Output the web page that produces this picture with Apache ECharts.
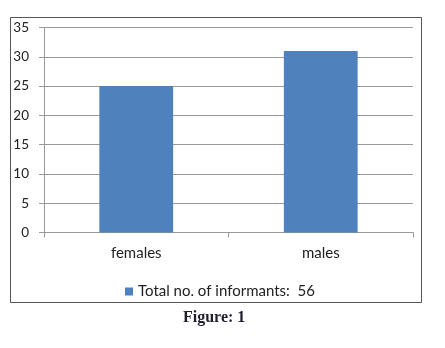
<!DOCTYPE html>
<html><head><meta charset="utf-8">
<script src="https://cdn.jsdelivr.net/npm/echarts@6/dist/echarts.min.js"></script>
<style>html,body{margin:0;padding:0;background:#fff}#c{width:445px;height:348px}</style>
</head><body><div id="c"></div>
<script>
const categories = ['females', 'males'];
const seriesName = 'Total no. of informants:  56';
const values = [25, 31];
const yTicks = [0, 5, 10, 15, 20, 25, 30, 35];

const chart = echarts.init(document.getElementById('c'), null, {renderer: 'canvas'});
const font = 'Lato';
chart.setOption({
  animation: false,
  backgroundColor: '#fff',
  title: {
    text: 'Figure: 1', left: 178, top: 305,
    textStyle: {fontFamily: 'Liberation Serif', fontWeight: 'bold', fontSize: 16, color: '#1e1e2e'}
  },
  graphic: [{
    type: 'rect', left: 8, top: 15, silent: true,
    shape: {width: 411, height: 285},
    style: {fill: 'none', stroke: '#555', lineWidth: 1}
  }],
  legend: {
    data: [seriesName], left: 120, top: 279,
    icon: 'rect', itemWidth: 8, itemHeight: 8, itemGap: 4,
    textStyle: {fontFamily: font, fontSize: 15, color: '#222'}
  },
  grid: {left: 44, right: 32, top: 27.5, bottom: 115.5, containLabel: false},
  xAxis: {
    type: 'category', data: categories,
    axisLine: {lineStyle: {color: '#999'}},
    axisTick: {show: true, length: 5, lineStyle: {color: '#999'}},
    axisLabel: {fontFamily: font, fontSize: 15, color: '#222', margin: 13}
  },
  yAxis: {
    type: 'value', min: yTicks[0], max: yTicks[yTicks.length - 1], interval: 5,
    axisLine: {show: true, lineStyle: {color: '#999'}},
    axisTick: {show: true, length: 5, lineStyle: {color: '#999'}},
    splitLine: {lineStyle: {color: '#999'}},
    axisLabel: {fontFamily: font, fontSize: 13.5, color: '#222', margin: 15}
  },
  series: [{
    name: seriesName, type: 'bar', data: values,
    barWidth: '40%',
    itemStyle: {color: '#4F81BD'}
  }]
});
</script></body></html>
